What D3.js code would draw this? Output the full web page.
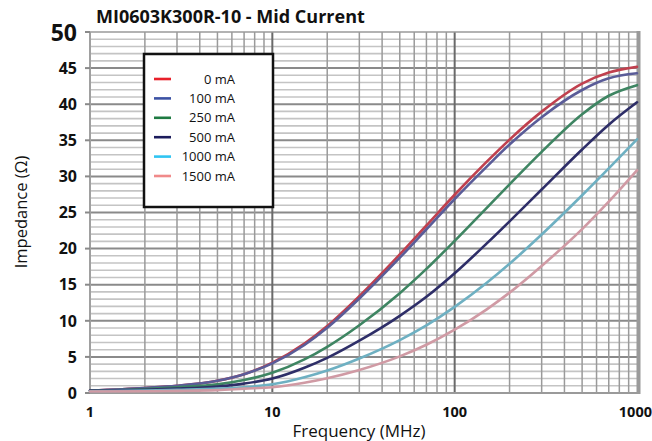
<!DOCTYPE html>
<html>
<head>
<meta charset="utf-8">
<script src="https://cdn.jsdelivr.net/npm/d3@7"></script>
<style>
  body { margin: 0; background: #fff; }
  svg { display: block; font-family: "Open Sans", sans-serif; }
</style>
</head>
<body>
<svg width="652" height="441"></svg>
<script>
const freqs = [1, 2, 3, 5, 7, 10, 15, 20, 30, 50, 70, 100, 150, 200, 300, 500, 700, 1000];

const z0 = [0.35, 0.7, 1.0, 1.7, 2.6, 4.2, 6.84, 9.28, 13.42, 19.19, 23.2, 27.46, 32.04, 35.1, 38.97, 42.86, 44.39, 45.17];
const z100 = [0.35, 0.7, 1.0, 1.7, 2.6, 4.1, 6.65, 9.03, 13.08, 18.74, 22.68, 26.87, 31.36, 34.42, 38.2, 41.97, 43.58, 44.28];
const z250 = [0.3, 0.55, 0.8, 1.2, 1.8, 2.8, 4.65, 6.4, 9.39, 13.83, 17.19, 21.07, 25.65, 28.9, 33.39, 38.61, 41.17, 42.64];
const z500 = [0.3, 0.45, 0.6, 0.9, 1.3, 2.0, 3.5, 4.87, 7.25, 10.69, 13.32, 16.58, 20.72, 23.78, 28.18, 33.73, 37.16, 40.26];
const z1000 = [0.25, 0.35, 0.45, 0.6, 0.8, 1.2, 2.17, 3.11, 4.78, 7.33, 9.37, 11.93, 15.27, 17.9, 21.95, 27.39, 31.11, 35.14];
const z1500 = [0.2, 0.25, 0.3, 0.4, 0.6, 0.8, 1.42, 2.04, 3.18, 5.07, 6.68, 8.77, 11.59, 13.9, 17.6, 22.7, 26.5, 30.84];

const seriesNames = ["0 mA", "100 mA", "250 mA", "500 mA", "1000 mA", "1500 mA"];
const lineColors = ["#c0404e", "#5a5c98", "#3e8562", "#2e2e68", "#6eb0c2", "#d09aa4"];
const legendColors = ["#e8202a", "#3c52a4", "#1e7a42", "#1c1c5c", "#30c4f2", "#f08a8a"];

const xTicks = [1, 10, 100, 1000];
const yTicks = [0, 5, 10, 15, 20, 25, 30, 35, 40, 45, 50];

const allSeries = [z0, z100, z250, z500, z1000, z1500];

const svg = d3.select("svg");
const plotLeft = 90, plotRight = 637, plotTop = 32, plotBottom = 393;

const x = d3.scaleLog().domain([1, 1000]).range([plotLeft, plotRight]);
const y = d3.scaleLinear().domain([0, 50]).range([plotBottom, plotTop]);

const grid = svg.append("g");

// horizontal grid, every 1 ohm
grid.selectAll(".hminor")
  .data(d3.range(1, 50))
  .enter()
  .append("line")
  .attr("x1", plotLeft).attr("x2", plotRight)
  .attr("y1", d => y(d)).attr("y2", d => y(d))
  .attr("stroke", d => d % 5 === 0 ? "#8a8a8a" : "#c4c4c4")
  .attr("stroke-width", d => d % 5 === 0 ? 2 : 1.6);

// vertical grid, every integer within decades
const vMinor = [];
for (let dec = 1; dec < 1000; dec *= 10) {
  for (let k = 2; k <= 9; k++) vMinor.push(dec * k);
}
grid.selectAll(".vminor")
  .data(vMinor)
  .enter()
  .append("line")
  .attr("x1", d => x(d)).attr("x2", d => x(d))
  .attr("y1", plotTop).attr("y2", plotBottom)
  .attr("stroke", "#9a9a9a")
  .attr("stroke-width", 1.5);

grid.selectAll(".vmajor")
  .data([10, 100])
  .enter()
  .append("line")
  .attr("x1", d => x(d)).attr("x2", d => x(d))
  .attr("y1", plotTop).attr("y2", plotBottom)
  .attr("stroke", "#6a6a6a")
  .attr("stroke-width", 2);

// top line and frame
grid.append("line")
  .attr("x1", plotLeft).attr("x2", plotRight)
  .attr("y1", y(50)).attr("y2", y(50))
  .attr("stroke", "#9a9a9a").attr("stroke-width", 1.5);
grid.append("line")
  .attr("x1", plotLeft).attr("x2", plotRight)
  .attr("y1", y(0)).attr("y2", y(0))
  .attr("stroke", "#9a9a9a").attr("stroke-width", 2);
grid.append("line")
  .attr("x1", plotRight + 1.5).attr("x2", plotRight + 1.5)
  .attr("y1", plotTop - 1).attr("y2", plotBottom + 1)
  .attr("stroke", "#9a9a9a").attr("stroke-width", 4);
grid.append("line")
  .attr("x1", plotLeft).attr("x2", plotLeft)
  .attr("y1", plotTop).attr("y2", plotBottom)
  .attr("stroke", "#a0a0a0").attr("stroke-width", 2);

// y ticks
grid.selectAll(".ytick")
  .data(yTicks)
  .enter()
  .append("line")
  .attr("x1", plotLeft - 5).attr("x2", plotLeft)
  .attr("y1", d => y(d)).attr("y2", d => y(d))
  .attr("stroke", "#8a8a8a").attr("stroke-width", 2);

// curves
const line = d3.line()
  .x((d, i) => x(freqs[i]))
  .y(d => y(d))
  .curve(d3.curveMonotoneX);

svg.append("g")
  .selectAll("path")
  .data(allSeries)
  .enter()
  .append("path")
  .attr("d", d => line(d))
  .attr("fill", "none")
  .attr("stroke", (d, i) => lineColors[i])
  .attr("stroke-width", 2.6)
  .attr("stroke-linecap", "round");

// axis labels
svg.append("g")
  .selectAll("text")
  .data(yTicks)
  .enter()
  .append("text")
  .attr("x", 77)
  .attr("y", d => y(d))
  .attr("dy", d => d === 50 ? "0.38em" : "0.36em")
  .attr("text-anchor", "end")
  .attr("font-weight", 700)
  .attr("font-size", d => d === 50 ? 23 : 16)
  .attr("fill", "#111")
  .text(d => d);

svg.append("g")
  .selectAll("text")
  .data(xTicks)
  .enter()
  .append("text")
  .attr("x", d => d === 1000 ? 652 : x(d))
  .attr("y", 417)
  .attr("text-anchor", d => d === 1000 ? "end" : "middle")
  .attr("font-weight", 700)
  .attr("font-size", 14.5)
  .attr("fill", "#111")
  .text(d => d);

svg.append("text")
  .attr("x", 359)
  .attr("y", 437)
  .attr("text-anchor", "middle")
  .attr("font-size", 17)
  .attr("fill", "#111")
  .text("Frequency (MHz)");

svg.append("text")
  .attr("transform", "translate(27,212) rotate(-90)")
  .attr("text-anchor", "middle")
  .attr("font-size", 16.5)
  .attr("fill", "#111")
  .text("Impedance (Ω)");

svg.append("text")
  .attr("x", 96)
  .attr("y", 23)
  .attr("font-weight", 700)
  .attr("font-size", 18)
  .attr("fill", "#111")
  .text("MI0603K300R-10 - Mid Current");

// legend
const legend = svg.append("g");
legend.append("rect")
  .attr("x", 144).attr("y", 54)
  .attr("width", 129).attr("height", 153)
  .attr("fill", "#fff")
  .attr("stroke", "#111")
  .attr("stroke-width", 2.5);

const rows = legend.selectAll(".row")
  .data(seriesNames)
  .enter()
  .append("g")
  .attr("transform", (d, i) => `translate(0,${79 + i * 19.4})`);

rows.append("line")
  .attr("x1", 154).attr("x2", 171)
  .attr("y1", 0).attr("y2", 0)
  .attr("stroke", (d, i) => legendColors[i])
  .attr("stroke-width", 2.6);

rows.append("text")
  .attr("x", 235)
  .attr("y", 0)
  .attr("dy", "0.35em")
  .attr("text-anchor", "end")
  .attr("font-size", 13)
  .attr("fill", "#111")
  .text(d => d);
</script>
</body>
</html>
